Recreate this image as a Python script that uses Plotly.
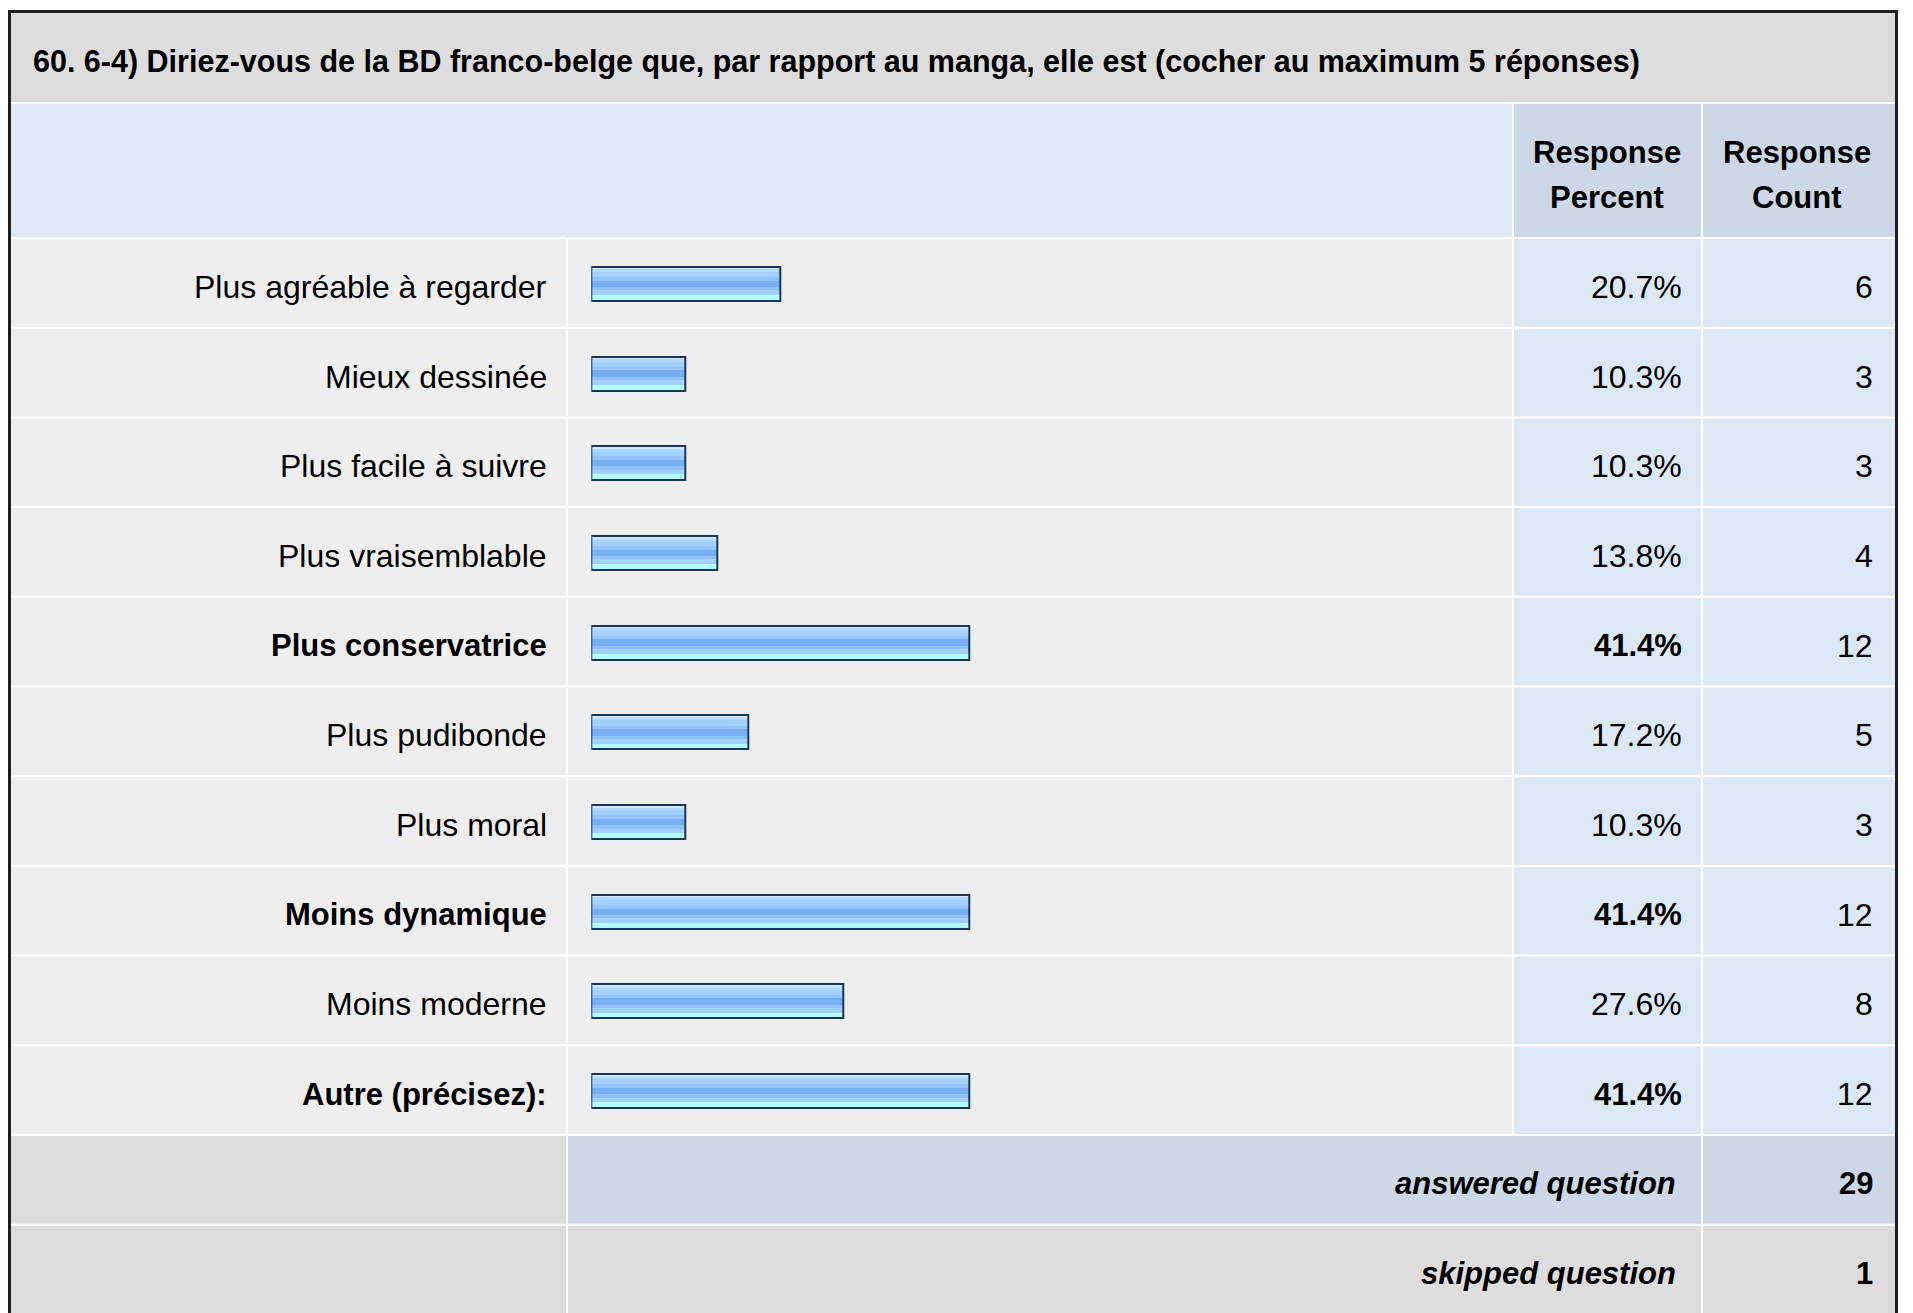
import plotly.graph_objects as go

# ---------------- data ----------------
title_text = "60. 6-4) Diriez-vous de la BD franco-belge que, par rapport au manga, elle est (cocher au maximum 5 réponses)"
categories = [
    "Plus agréable à regarder",
    "Mieux dessinée",
    "Plus facile à suivre",
    "Plus vraisemblable",
    "Plus conservatrice",
    "Plus pudibonde",
    "Plus moral",
    "Moins dynamique",
    "Moins moderne",
    "Autre (précisez):",
]
percents = [20.7, 10.3, 10.3, 13.8, 41.4, 17.2, 10.3, 41.4, 27.6, 41.4]
counts = [6, 3, 3, 4, 12, 5, 3, 12, 8, 12]
header_line1 = ["Response", "Response"]
header_line2 = ["Percent", "Count"]
summary_labels = ["answered question", "skipped question"]
summary_values = [29, 1]

# ---------------- layout constants (page pixels) ----------------
OFF = 8                      # default body margin of the html page
W, H = 1913 - OFF, 1313 - OFF
FONT = "Liberation Sans, Arial, Helvetica, sans-serif"
FS = 32          # regular text
FSB = 31         # bold text
TITLE_FS = 30.5

def px(x):
    return (x - OFF) / W

def py(y):
    return 1 - (y - OFF) / H

ROW0 = 239.0
PITCH = 89.7
N = len(categories)
COLS = [11, 568, 1514, 1703, 1895]
GAP = 2
TDX, TDY = 4, 3   # annotation padding compensation

C_TITLE = "#dddddd"
C_HEAD = "#dde8f5"
C_HEAD2 = "#ccd8e6"
C_ROW = "#eeeeee"
C_NUM = "#dde8f5"

shapes = []

def rect(x0, y0, x1, y1, color):
    shapes.append(dict(type="rect", xref="paper", yref="paper",
                       x0=px(x0), x1=px(x1), y0=py(y1), y1=py(y0),
                       fillcolor=color, line=dict(width=0), layer="below"))

# outer frame
rect(7, 10, 1898, 1340, "#1e1e1e")
rect(11, 13, 1895, 1340, "#ffffff")
# title band
rect(11, 13, 1895, 102, C_TITLE)
# header band
rect(11, 104, COLS[2] - GAP, ROW0 - GAP, C_HEAD)
rect(COLS[2], 104, COLS[3] - GAP, ROW0 - GAP, C_HEAD2)
rect(COLS[3], 104, COLS[4], ROW0 - GAP, C_HEAD2)
# data rows
for i in range(N):
    t = ROW0 + i * PITCH
    b = t + PITCH - GAP
    rect(COLS[0], t, COLS[1] - GAP, b, C_ROW)
    rect(COLS[1], t, COLS[2] - GAP, b, C_ROW)
    rect(COLS[2], t, COLS[3] - GAP, b, C_NUM)
    rect(COLS[3], t, COLS[4], b, C_NUM)
# summary rows
t1 = ROW0 + N * PITCH
b1 = t1 + PITCH - GAP
rect(COLS[0], t1, COLS[1] - GAP, b1, C_TITLE)
rect(COLS[1], t1, COLS[3] - GAP, b1, C_HEAD2)
rect(COLS[3], t1, COLS[4], b1, C_HEAD2)
t2 = t1 + PITCH
rect(COLS[0], t2, COLS[1] - GAP, 1340, C_TITLE)
rect(COLS[1], t2, COLS[3] - GAP, 1340, C_TITLE)
rect(COLS[3], t2, COLS[4], 1340, C_TITLE)

# ---------------- bars ----------------
ypos = list(range(N))
BAR_W = 0.379
STRIPES = [
    (0.000, 0.075, "#cce8ff"),
    (0.075, 0.150, "#b2daff"),
    (0.150, 0.300, "#a2d0ff"),
    (0.300, 0.405, "#94c4fc"),
    (0.405, 0.595, "#78aef2"),
    (0.595, 0.690, "#8ec2f9"),
    (0.690, 0.830, "#a2d0ff"),
    (0.830, 1.000, "#b2fdff"),
]
fig = go.Figure()
for a, b, col in STRIPES:
    fig.add_trace(go.Bar(
        orientation="h", x=percents, y=ypos,
        width=(b - a) * BAR_W, offset=-BAR_W / 2 + a * BAR_W,
        marker=dict(color=col, line=dict(width=0)),
        hoverinfo="skip", showlegend=False,
    ))
fig.add_trace(go.Bar(
    orientation="h", x=percents, y=ypos,
    width=BAR_W, offset=-BAR_W / 2,
    marker=dict(color="rgba(0,0,0,0)", line=dict(width=2, color="#1c3656")),
    hoverinfo="skip", showlegend=False,
))

# ---------------- text ----------------
ann = []
ann.append(dict(xref="paper", yref="paper", x=px(31), y=py(61), xanchor="left", yanchor="middle",
                text="<b>" + title_text + "</b>", showarrow=False,
                font=dict(family=FONT, size=TITLE_FS, color="#000")))
hx = [1607, 1797]
for j in range(2):
    ann.append(dict(xref="paper", yref="paper", x=px(hx[j]), y=py(152), xanchor="center", yanchor="middle",
                    text="<b>" + header_line1[j] + "</b>", showarrow=False,
                    font=dict(family=FONT, size=FSB, color="#000")))
    ann.append(dict(xref="paper", yref="paper", x=px(hx[j]), y=py(197), xanchor="center", yanchor="middle",
                    text="<b>" + header_line2[j] + "</b>", showarrow=False,
                    font=dict(family=FONT, size=FSB, color="#000")))
pmax = max(percents)
for i, (c, p, n) in enumerate(zip(categories, percents, counts)):
    bold = p == pmax
    lab = "<b>%s</b>" % c if bold else c
    pct = ("<b>%.1f%%</b>" if bold else "%.1f%%") % p
    fs = FSB if bold else FS
    yc = ROW0 + (i + 0.5) * PITCH + TDY
    for x, txt, f in ((545, lab, fs), (1680, pct, fs), (1871, str(n), FS)):
        ann.append(dict(xref="paper", yref="paper", x=px(x + TDX), y=py(yc), xanchor="right", yanchor="middle",
                        text=txt, showarrow=False,
                        font=dict(family=FONT, size=f, color="#000")))
for k in range(2):
    yc = ROW0 + (N + k + 0.5) * PITCH + TDY
    ann.append(dict(xref="paper", yref="paper", x=px(1674 + TDX), y=py(yc), xanchor="right", yanchor="middle",
                    text="<b><i>" + summary_labels[k] + "</i></b>", showarrow=False,
                    font=dict(family=FONT, size=FSB, color="#000")))
    ann.append(dict(xref="paper", yref="paper", x=px(1871 + TDX), y=py(yc), xanchor="right", yanchor="middle",
                    text="<b>%d</b>" % summary_values[k], showarrow=False,
                    font=dict(family=FONT, size=FSB, color="#000")))

x0 = 591.3
fig.update_layout(
    width=W, height=H,
    margin=dict(l=0, r=0, t=0, b=0),
    paper_bgcolor="#ffffff", plot_bgcolor="rgba(0,0,0,0)",
    barmode="overlay", bargap=0,
    shapes=shapes, annotations=ann,
    xaxis=dict(domain=[px(x0), px(x0 + 912)], range=[0, 100], visible=False, fixedrange=True),
    yaxis=dict(domain=[py(ROW0 + N * PITCH), py(ROW0)], range=[N - 0.5, -0.5],
               visible=False, fixedrange=True),
    showlegend=False,
)

fig.write_html("out.html", config={"displayModeBar": False})
